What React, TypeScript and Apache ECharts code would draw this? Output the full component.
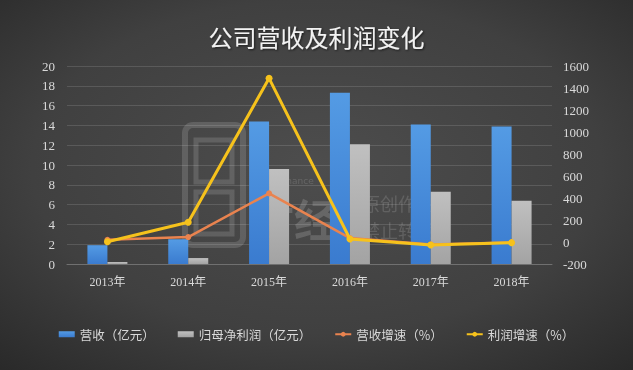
import React, { useEffect, useRef } from "react";
import * as echarts from "echarts";

const years = ["2013年", "2014年", "2015年", "2016年", "2017年", "2018年"];
const revenue = [1.9, 2.5, 14.4, 17.3, 14.1, 13.9];
const netProfit = [0.2, 0.6, 9.6, 12.1, 7.3, 6.4];
const revenueGrowth = [20, 45, 442, 36, -22, -4];
const profitGrowth = [2, 180, 1488, 27, -27, -6];

const SERIF = "'Liberation Serif', 'Noto Sans CJK SC', serif";
const CJK = "'Noto Sans CJK SC', sans-serif";

export default function App() {
  const ref = useRef<HTMLDivElement>(null);
  useEffect(() => {
    if (!ref.current) return;
    const chart = echarts.init(ref.current, null, { renderer: "svg" });
    const wm = "rgba(255,255,255,0.14)";
    chart.setOption({
      animation: false,
      backgroundColor: {
        type: "radial",
        x: 0.5,
        y: 0.45,
        r: 0.75,
        colorStops: [
          { offset: 0, color: "#4d4d4d" },
          { offset: 0.6, color: "#404040" },
          { offset: 1, color: "#292929" },
        ],
      },
      title: {
        text: "公司营收及利润变化",
        left: "center",
        top: 19,
        textStyle: {
          color: "#f2f2f2",
          fontSize: 24,
          fontWeight: "normal",
          fontFamily: CJK,
          textShadowColor: "rgba(0,0,0,0.6)",
          textShadowBlur: 2,
          textShadowOffsetX: 1,
          textShadowOffsetY: 1,
        },
      },
      graphic: [
        {
          type: "group",
          z: 10,
          silent: true,
          children: [
            { type: "rect", shape: { x: 185, y: 125, width: 58, height: 120, r: 8 }, style: { fill: "none", stroke: wm, lineWidth: 6 } },
            { type: "rect", shape: { x: 196, y: 140, width: 36, height: 42 }, style: { fill: "none", stroke: wm, lineWidth: 5 } },
            { type: "rect", shape: { x: 196, y: 192, width: 36, height: 42 }, style: { fill: "none", stroke: wm, lineWidth: 5 } },
            { type: "text", x: 250, y: 176, style: { text: "Bread Finance", fill: wm, fontSize: 9, fontFamily: "'DejaVu Sans'" } },
            { type: "text", x: 250, y: 196, style: { text: "财经", fill: "rgba(255,255,255,0.16)", fontSize: 44, fontWeight: "bold", fontFamily: CJK } },
            { type: "text", x: 362, y: 194, style: { text: "原创作品", fill: wm, fontSize: 18, fontFamily: CJK } },
            { type: "text", x: 362, y: 221, style: { text: "禁止转载", fill: wm, fontSize: 18, fontFamily: CJK } },
          ],
        },
      ],
      legend: {
        left: "center",
        top: 323,
        itemGap: 23,
        itemWidth: 16,
        itemHeight: 6,
        textStyle: { color: "#d9d9d9", fontSize: 12.5, fontFamily: CJK },
        data: [
          { name: "营收（亿元）", icon: "rect" },
          { name: "归母净利润（亿元）", icon: "rect" },
          { name: "营收增速（%）" },
          { name: "利润增速（%）" },
        ],
      },
      grid: { left: 67, right: 81, top: 66, bottom: 106 },
      xAxis: {
        type: "category",
        data: years,
        axisLine: { lineStyle: { color: "#707070" } },
        axisTick: { show: false },
        axisLabel: { color: "#d9d9d9", fontSize: 12, fontFamily: SERIF, margin: 12 },
      },
      yAxis: [
        {
          type: "value",
          min: 0,
          max: 20,
          interval: 2,
          axisLine: { show: false },
          axisTick: { show: false },
          axisLabel: { color: "#d9d9d9", fontSize: 13, fontFamily: SERIF, margin: 12 },
          splitLine: { lineStyle: { color: "rgba(255,255,255,0.13)" } },
        },
        {
          type: "value",
          min: -200,
          max: 1600,
          interval: 200,
          axisLine: { show: false },
          axisTick: { show: false },
          axisLabel: {
            color: "#d9d9d9",
            fontSize: 13,
            fontFamily: SERIF,
            margin: 11,
            formatter: (v: number) => String(v),
          },
          splitLine: { show: false },
        },
      ],
      series: [
        {
          name: "营收（亿元）",
          type: "bar",
          data: revenue,
          barWidth: 20,
          barGap: "0%",
          z: 2,
          itemStyle: {
            color: {
              type: "linear", x: 0, y: 0, x2: 0, y2: 1,
              colorStops: [
                { offset: 0, color: "#549be4" },
                { offset: 1, color: "#3a7bcf" },
              ],
            },
          },
        },
        {
          name: "归母净利润（亿元）",
          type: "bar",
          data: netProfit,
          barWidth: 20,
          z: 2,
          itemStyle: {
            color: {
              type: "linear", x: 0, y: 0, x2: 0, y2: 1,
              colorStops: [
                { offset: 0, color: "#c0c0c0" },
                { offset: 1, color: "#a3a3a3" },
              ],
            },
          },
        },
        {
          name: "营收增速（%）",
          type: "line",
          yAxisIndex: 1,
          data: revenueGrowth,
          symbol: "circle",
          symbolSize: 6,
          z: 3,
          lineStyle: { color: "#e9834f", width: 2.5 },
          itemStyle: { color: "#e9834f" },
        },
        {
          name: "利润增速（%）",
          type: "line",
          yAxisIndex: 1,
          data: profitGrowth,
          symbol: "circle",
          symbolSize: 7,
          z: 4,
          lineStyle: { color: "#f6c21c", width: 3 },
          itemStyle: { color: "#f6c21c" },
        },
      ],
    });
    return () => chart.dispose();
  }, []);
  return (
    <div
      ref={ref}
      style={{ position: "fixed", left: 0, top: 0, width: 633, height: 370 }}
    />
  );
}
